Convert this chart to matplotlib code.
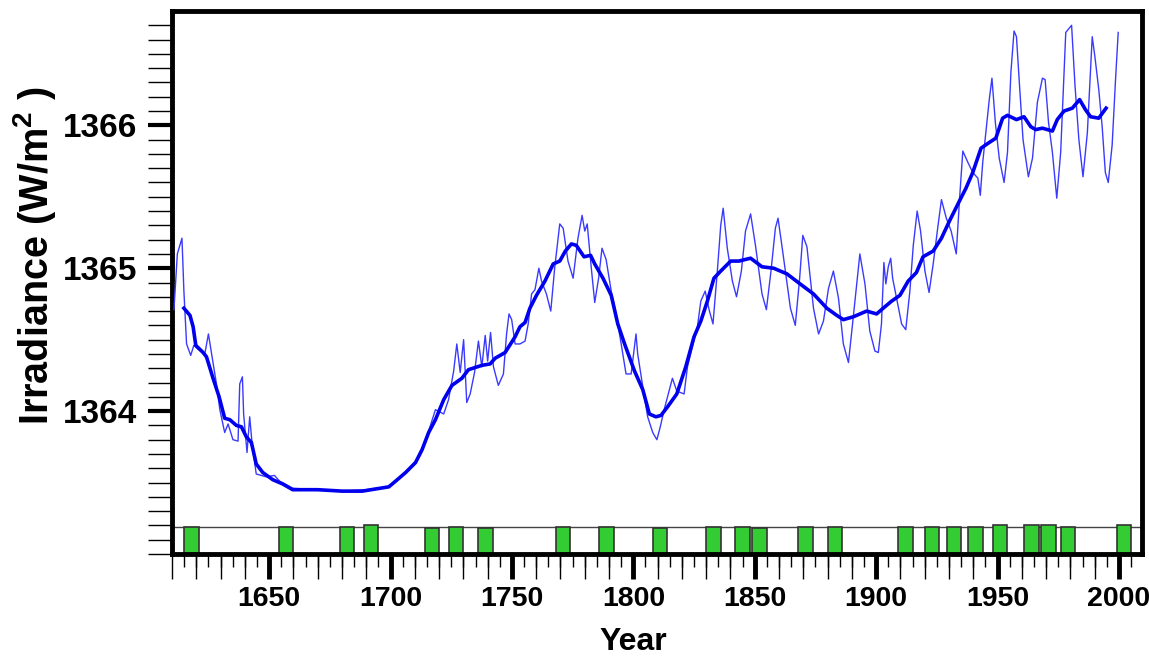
import matplotlib
matplotlib.use("Agg")
import matplotlib.pyplot as plt
import numpy as np

# annual irradiance (thin line)
years_thin = [1610.8, 1612.2, 1614.1, 1614.9, 1616.0, 1617.7, 1619.0, 1621.0, 1623.5, 1625.0,
              1628.3, 1629.7, 1631.7, 1633.1, 1635.1, 1637.2, 1637.9, 1639.0, 1639.5, 1640.9,
              1642.0, 1643.1, 1644.7, 1648.8, 1652.2, 1654.3, 1659.7, 1670, 1680, 1690,
              1699, 1702, 1706, 1710, 1713, 1715.7, 1718.5, 1721.9, 1723.9, 1726.0,
              1727.3, 1728.7, 1730.1, 1731.4, 1732.8, 1734.6, 1736.2, 1737.6, 1739.0, 1740.0,
              1741.2, 1742.4, 1744.4, 1746.5, 1747.8, 1748.8, 1749.9, 1751.3, 1753.3, 1755.4,
              1756.7, 1758.1, 1759.5, 1761.1, 1762.2, 1764.2, 1766.0, 1767.6, 1769.7, 1771.1,
              1773.1, 1775.2, 1777.2, 1778.9, 1780.0, 1781.0, 1782.7, 1784.1, 1785.7, 1787.1,
              1788.8, 1790.9, 1792.9, 1795.0, 1797.0, 1799.1, 1801.1, 1801.8, 1803.9, 1805.9,
              1808.0, 1809.7, 1811.1, 1812.7, 1814.4, 1816.1, 1817.9, 1820.9, 1822.3, 1824.3,
              1826.4, 1827.8, 1829.6, 1831.2, 1832.8, 1834.6, 1836.0, 1837.0, 1838.7, 1840.8,
              1842.5, 1844.5, 1846.2, 1848.3, 1850.3, 1853.0, 1854.8, 1856.7, 1858.5, 1859.6,
              1861.9, 1864.7, 1866.7, 1868.5, 1869.8, 1871.5, 1874.2, 1876.3, 1878.3, 1880.4,
              1882.4, 1884.5, 1886.5, 1888.6, 1890.6, 1893.3, 1895.4, 1897.4, 1899.5, 1900.9,
              1902.2, 1903.2, 1904.0, 1905.0, 1906.0, 1906.8, 1908.4, 1910.5, 1912.2, 1913.9,
              1915.3, 1916.9, 1918.3, 1920.1, 1921.8, 1923.5, 1925.5, 1926.9, 1928.9, 1930.9,
              1933.0, 1934.3, 1935.7, 1937.8, 1939.8, 1941.9, 1942.9, 1943.9, 1945.2, 1946.6,
              1947.7, 1949.1, 1950.7, 1952.7, 1954.1, 1955.5, 1956.8, 1957.8, 1958.9, 1960.5,
              1962.7, 1964.4, 1966.4, 1968.5, 1969.6, 1971.0, 1972.6, 1974.4, 1976.0, 1978.1,
              1980.5, 1981.9, 1983.5, 1985.2, 1987.0, 1989.0, 1990.1, 1991.7, 1993.1, 1994.4,
              1995.6, 1997.2, 1998.6, 1999.7]
irr_thin = [1364.71, 1365.10, 1365.21, 1364.84, 1364.47, 1364.39, 1364.46, 1364.43, 1364.40, 1364.54,
            1364.19, 1364.01, 1363.85, 1363.91, 1363.80, 1363.79, 1364.19, 1364.24, 1363.98, 1363.71,
            1363.96, 1363.75, 1363.56, 1363.54, 1363.55, 1363.51, 1363.46, 1363.45, 1363.44, 1363.45,
            1363.47, 1363.51, 1363.57, 1363.64, 1363.74, 1363.86, 1364.01, 1363.98, 1364.08, 1364.28,
            1364.47, 1364.27, 1364.50, 1364.06, 1364.12, 1364.27, 1364.49, 1364.31, 1364.53, 1364.35,
            1364.55, 1364.31, 1364.18, 1364.26, 1364.54, 1364.68, 1364.64, 1364.47, 1364.47, 1364.49,
            1364.61, 1364.82, 1364.85, 1365.00, 1364.91, 1364.82, 1364.70, 1365.00, 1365.31, 1365.28,
            1365.05, 1364.93, 1365.21, 1365.37, 1365.26, 1365.31, 1365.00, 1364.76, 1364.93, 1365.14,
            1365.06, 1364.84, 1364.68, 1364.47, 1364.26, 1364.26, 1364.54, 1364.40, 1364.17, 1363.96,
            1363.85, 1363.80, 1363.89, 1364.01, 1364.12, 1364.23, 1364.14, 1364.12, 1364.31, 1364.45,
            1364.59, 1364.77, 1364.84, 1364.71, 1364.61, 1364.98, 1365.30, 1365.42, 1365.14, 1364.91,
            1364.80, 1364.98, 1365.26, 1365.38, 1365.16, 1364.82, 1364.71, 1364.98, 1365.28, 1365.35,
            1365.07, 1364.72, 1364.60, 1364.93, 1365.23, 1365.15, 1364.72, 1364.54, 1364.63, 1364.86,
            1364.98, 1364.79, 1364.47, 1364.34, 1364.66, 1365.10, 1364.89, 1364.56, 1364.42, 1364.41,
            1364.61, 1365.04, 1364.89, 1365.01, 1365.07, 1364.93, 1364.79, 1364.61, 1364.57, 1364.84,
            1365.16, 1365.40, 1365.26, 1364.98, 1364.83, 1365.03, 1365.30, 1365.48, 1365.35, 1365.26,
            1365.10, 1365.47, 1365.82, 1365.74, 1365.67, 1365.63, 1365.51, 1365.74, 1365.95, 1366.18,
            1366.33, 1366.02, 1365.77, 1365.60, 1365.81, 1366.37, 1366.66, 1366.62, 1366.32, 1365.90,
            1365.64, 1365.77, 1366.16, 1366.33, 1366.32, 1366.02, 1365.81, 1365.49, 1365.81, 1366.65,
            1366.70, 1366.28, 1365.90, 1365.64, 1365.95, 1366.62, 1366.48, 1366.25, 1365.99, 1365.67,
            1365.60, 1365.86, 1366.32, 1366.65]

# smoothed irradiance (thick line)
years_smooth = [1614.9, 1617.4, 1618.7, 1619.8, 1622.8, 1624.2, 1626.9, 1629.4, 1631.7, 1633.8,
                1636.5, 1638.6, 1640.6, 1642.7, 1644.7, 1647.4, 1651.5, 1655.6, 1659.7, 1670,
                1680, 1688.4, 1699.3, 1702.1, 1706.2, 1710.3, 1713.0, 1715.7, 1718.5, 1721.9,
                1725.3, 1729.4, 1732.1, 1737.6, 1741.0, 1743.1, 1747.2, 1751.3, 1753.3, 1755.4,
                1757.4, 1760.1, 1763.6, 1767.0, 1769.7, 1772.0, 1774.5, 1776.5, 1779.7, 1782.4,
                1784.1, 1787.5, 1790.9, 1793.6, 1796.4, 1800.5, 1803.9, 1806.6, 1809.3, 1811.4,
                1814.1, 1817.9, 1821.6, 1825.0, 1827.8, 1830.5, 1833.2, 1836.0, 1840.1, 1843.5,
                1848.3, 1853.0, 1857.8, 1863.3, 1868.7, 1874.2, 1879.7, 1883.8, 1886.5, 1890.6,
                1896.1, 1900.2, 1902.9, 1906.4, 1909.8, 1913.2, 1916.6, 1919.3, 1923.5, 1926.9,
                1930.2, 1934.3, 1937.0, 1939.8, 1943.2, 1946.6, 1949.3, 1952.1, 1954.1, 1957.8,
                1960.9, 1963.7, 1965.7, 1968.5, 1972.6, 1974.6, 1977.4, 1980.8, 1983.8, 1986.2,
                1988.3, 1991.7, 1993.4, 1994.7]
irr_smooth = [1364.72, 1364.67, 1364.59, 1364.46, 1364.41, 1364.38, 1364.23, 1364.10, 1363.95, 1363.94,
              1363.90, 1363.89, 1363.82, 1363.78, 1363.63, 1363.57, 1363.52, 1363.49, 1363.45, 1363.45,
              1363.44, 1363.44, 1363.47, 1363.51, 1363.57, 1363.64, 1363.73, 1363.85, 1363.94, 1364.08,
              1364.18, 1364.23, 1364.29, 1364.32, 1364.33, 1364.37, 1364.41, 1364.52, 1364.59, 1364.62,
              1364.72, 1364.81, 1364.91, 1365.03, 1365.05, 1365.12, 1365.17, 1365.16, 1365.08, 1365.09,
              1365.03, 1364.93, 1364.81, 1364.61, 1364.47, 1364.28, 1364.15, 1363.98, 1363.96, 1363.97,
              1364.03, 1364.12, 1364.31, 1364.52, 1364.63, 1364.77, 1364.93, 1364.98, 1365.05, 1365.05,
              1365.07, 1365.01, 1365.00, 1364.96, 1364.89, 1364.82, 1364.72, 1364.67, 1364.64, 1364.66,
              1364.70, 1364.68, 1364.72, 1364.77, 1364.81, 1364.91, 1364.97, 1365.08, 1365.12, 1365.21,
              1365.33, 1365.47, 1365.56, 1365.67, 1365.84, 1365.88, 1365.91, 1366.05, 1366.07, 1366.04,
              1366.06, 1365.99, 1365.97, 1365.98, 1365.96, 1366.04, 1366.10, 1366.12, 1366.18, 1366.11,
              1366.06, 1366.05, 1366.09, 1366.12]

# green boxes along the bottom strip (start year, height)
box_starts = [1615, 1654, 1679, 1689, 1714, 1724, 1736, 1768, 1786, 1808, 1830, 1842,
              1849, 1868, 1880, 1909, 1920, 1929, 1938, 1948, 1961, 1968, 1976, 1999]
box_heights = [0.19, 0.19, 0.19, 0.205, 0.18, 0.19, 0.18, 0.19, 0.19, 0.18, 0.19, 0.19,
               0.18, 0.19, 0.19, 0.19, 0.19, 0.19, 0.19, 0.205, 0.205, 0.205, 0.19, 0.205]
box_width = 6

plt.rcParams['font.family'] = ['Liberation Sans', 'DejaVu Sans']
plt.rcParams['font.weight'] = 'bold'
plt.rcParams['mathtext.fontset'] = 'custom'
plt.rcParams['mathtext.rm'] = 'Liberation Sans:bold'
plt.rcParams['mathtext.bf'] = 'Liberation Sans:bold'

fig = plt.figure(figsize=(11.49, 6.57), dpi=100)
ax = fig.add_axes([172 / 1149, 1 - 554 / 657, 970 / 1149, 543 / 657])

ax.axhline(1363.19, color='#444444', lw=1, zorder=1)
ax.bar(box_starts, box_heights, width=box_width, bottom=1363.0, align='edge',
       color='#33cc33', edgecolor='#333333', linewidth=1.2, zorder=2)

ax.plot(years_thin, irr_thin, color='#3a3aff', lw=1.0, zorder=3)
ax.plot(years_smooth, irr_smooth, color='#0000ee', lw=2.6, zorder=4)

ax.set_xlim(1610, 2009.5)
ax.set_ylim(1363.0, 1366.8)

for s in ax.spines.values():
    s.set_linewidth(3.5)

ax.set_xticks(np.arange(1650, 2001, 50))
ax.set_xticks(np.arange(1615, 2009, 5), minor=True)
ax.set_yticks([1364, 1365, 1366])
ax.set_yticks(np.arange(1363.0, 1366.75, 0.1), minor=True)

ax.tick_params(axis='x', which='major', length=18, width=3.5, pad=5, labelsize=20.5)
ax.tick_params(axis='x', which='minor', length=9, width=1)
ax.tick_params(axis='y', which='major', length=17, width=3, pad=8, labelsize=24)
ax.tick_params(axis='y', which='minor', length=17, width=1)

# longer thin ticks every ten years
sec = ax.secondary_xaxis('bottom')
sec.set_xticks([y for y in range(1610, 2009, 10) if y % 50 != 0])
sec.set_xticklabels([])
sec.tick_params(length=18, width=1)
sec.spines['bottom'].set_visible(False)

ax.set_xlabel('Year', fontsize=23, fontweight='bold')
ax.xaxis.set_label_coords(0.476, -0.134)
ax.set_ylabel('Irradiance (W/m$^{2}$ )', fontsize=28.5, fontweight='bold')
ax.yaxis.set_label_coords(-0.1175, 0.55)

fig.savefig('out.png', dpi=100)
